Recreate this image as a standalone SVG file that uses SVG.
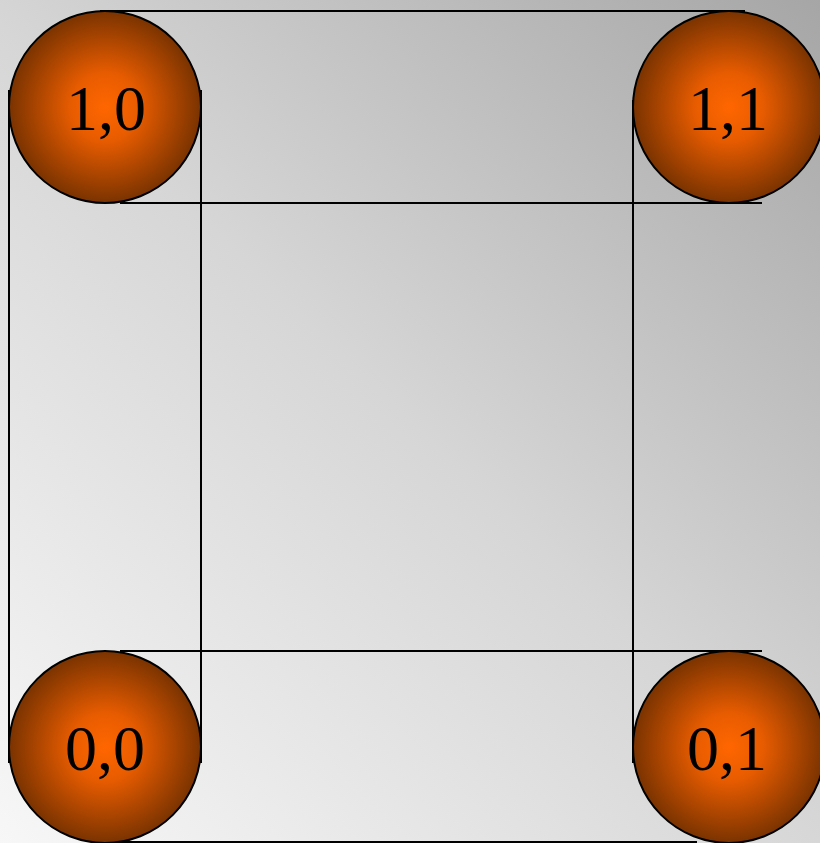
<svg xmlns="http://www.w3.org/2000/svg" width="820" height="843" viewBox="0 0 820 843">
<defs>
<linearGradient id="bg" x1="0" y1="843" x2="820" y2="0" gradientUnits="userSpaceOnUse">
<stop offset="0" stop-color="#f7f7f7"/>
<stop offset="0.5" stop-color="#d6d6d6"/>
<stop offset="1" stop-color="#a6a6a6"/>
</linearGradient>
<radialGradient id="ball" cx="0.5" cy="0.5" r="0.5">
<stop offset="0" stop-color="#ff6600"/>
<stop offset="0.35" stop-color="#e85c00"/>
<stop offset="1" stop-color="#7a3300"/>
</radialGradient>
<style>
.c{fill:none;stroke:#000;stroke-width:2}
.n circle{fill:url(#ball);stroke:#000;stroke-width:2}
.n text{font-family:"Liberation Serif","Times New Roman",serif;font-size:64px;fill:#000;text-anchor:middle}
</style>
</defs>
<rect width="820" height="843" fill="url(#bg)"/>
<g id="connectors" class="c">
<line x1="100" y1="11" x2="745" y2="11"/>
<line x1="120" y1="203" x2="762" y2="203"/>
<line x1="120" y1="651" x2="762" y2="651"/>
<line x1="100" y1="842" x2="697" y2="842"/>
<line x1="9" y1="90" x2="9" y2="763"/>
<line x1="201" y1="90" x2="201" y2="763"/>
<line x1="633" y1="100" x2="633" y2="763"/>
</g>
<g id="n10" class="n"><circle cx="105" cy="107" r="96"/><text x="106" y="130">1,0</text></g>
<g id="n11" class="n"><circle cx="729" cy="107" r="96"/><text x="728" y="130">1,1</text></g>
<g id="n00" class="n"><circle cx="105" cy="747" r="96"/><text x="105" y="770">0,0</text></g>
<g id="n01" class="n"><circle cx="729" cy="747" r="96"/><text x="727" y="770">0,1</text></g>
</svg>
